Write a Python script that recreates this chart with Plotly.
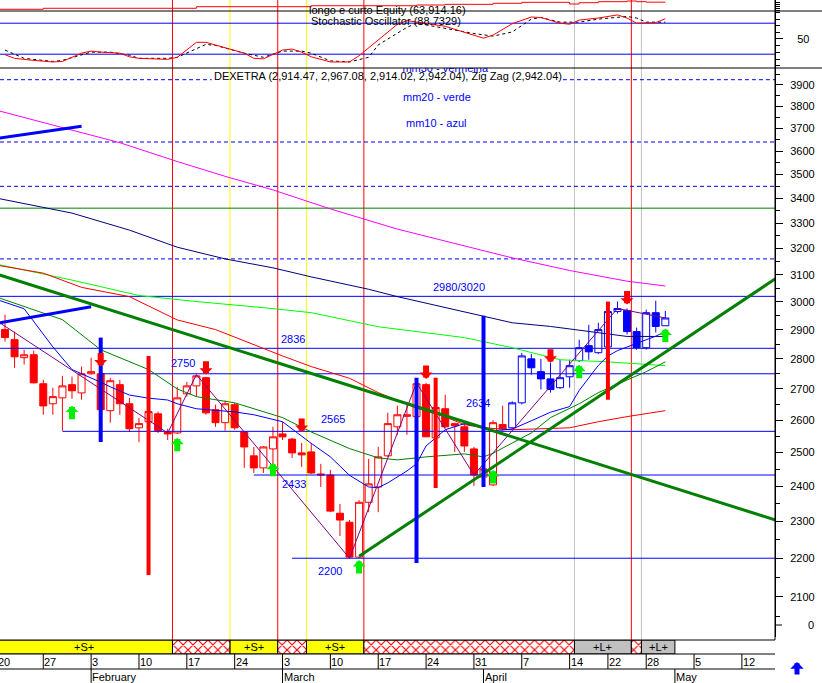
import math
import plotly.graph_objects as go

W, H = 822, 683
PW = 775                      # width of the plotting area in px
X_RANGE = [0.4775, 81.46]     # trading-day index shown (0 = Jan 20)
Y_LO, Y_HI = 2000.0, 3981.0   # log price range of the main panel

def yp(px):
    return 1 - px / H

# ---------------- price data (trading-day index, OHLC) ----------------
days = list(range(1, 71))
opens = [2901, 2866, 2804, 2814, 2717, 2652, 2671, 2714, 2687, 2750,
         2750, 2630, 2714, 2652, 2576, 2595, 2620, 2563, 2560, 2684,
         2710, 2737, 2633, 2592, 2649, 2563, 2490, 2454, 2511, 2557,
         2541, 2499, 2502, 2436, 2433, 2323, 2298, 2203, 2354, 2398,
         2490, 2579, 2612, 2611, 2714, 2545, 2636, 2589, 2579, 2511,
         2427, 2404, 2586, 2576, 2655, 2800, 2757, 2733, 2704, 2740,
         2794, 2845, 2821, 2841, 2965, 2969, 2894, 2838, 2961, 2914.47]
highs = [2954, 2894, 2831, 2828, 2730, 2704, 2743, 2740, 2774, 2804,
         2757, 2737, 2730, 2671, 2607, 2658, 2627, 2573, 2707, 2723,
         2747, 2740, 2649, 2662, 2655, 2565, 2517, 2520, 2579, 2595,
         2545, 2529, 2529, 2466, 2448, 2349, 2304, 2360, 2481, 2517,
         2623, 2646, 2658, 2730, 2720, 2646, 2681, 2592, 2592, 2517,
         2454, 2600, 2646, 2660, 2820, 2817, 2800, 2787, 2797, 2797,
         2866, 2918, 2925, 2980, 3001, 2976, 2908, 2972, 3004, 2967.08]
lows = [2859, 2770, 2781, 2718, 2617, 2617, 2567, 2668, 2665, 2747,
        2617, 2592, 2617, 2563, 2532, 2586, 2560, 2538, 2557, 2675,
        2675, 2617, 2579, 2567, 2570, 2454, 2439, 2439, 2457, 2538,
        2484, 2457, 2436, 2398, 2326, 2260, 2200, 2200, 2326, 2326,
        2487, 2554, 2554, 2611, 2548, 2540, 2576, 2502, 2502, 2401,
        2424, 2401, 2567, 2573, 2650, 2747, 2698, 2688, 2700, 2704,
        2790, 2797, 2817, 2835, 2958, 2884, 2831, 2831, 2891, 2914.02]
closes = [2873, 2807, 2814, 2720, 2645, 2675, 2710, 2694, 2750, 2757,
          2633, 2727, 2652, 2573, 2589, 2627, 2567, 2557, 2671, 2710,
          2743, 2623, 2592, 2652, 2576, 2517, 2454, 2517, 2548, 2548,
          2499, 2493, 2439, 2433, 2329, 2304, 2203, 2354, 2407, 2487,
          2589, 2617, 2617, 2717, 2548, 2640, 2579, 2582, 2520, 2433,
          2451, 2592, 2573, 2655, 2810, 2770, 2733, 2698, 2737, 2777,
          2838, 2824, 2901, 2965, 2976, 2894, 2838, 2961, 2912, 2942.04]
BLUE_FROM_DAY = 54

# ---------------- moving averages ----------------
mm10_x = [0, 3, 6, 8, 11, 12, 14, 16, 18, 19, 21, 23, 25, 27, 30, 33, 35, 37, 39, 40, 41, 43, 44, 45, 47, 49, 51, 52, 54, 56, 58, 60, 61, 63, 64, 65, 67, 69, 70]
mm10_y = [3010, 2975, 2841, 2764, 2722, 2707, 2680, 2670, 2664, 2652, 2636, 2632, 2626, 2617, 2595, 2528, 2487, 2432, 2398, 2396, 2410, 2445, 2466, 2520, 2570, 2589, 2576, 2567, 2572, 2598, 2625, 2643, 2695, 2778, 2810, 2828, 2852, 2878, 2894]
mm20_x = [0, 7, 11, 16, 19, 21, 25, 30, 33, 37, 40, 42, 45, 49, 51, 52, 54, 56, 58, 61, 63, 66, 68, 70]
mm20_y = [3019, 2936, 2831, 2764, 2700, 2675, 2655, 2608, 2563, 2512, 2484, 2478, 2487, 2496, 2487, 2498, 2529, 2560, 2608, 2652, 2688, 2730, 2757, 2790]
mm30_x = [0, 5, 9, 14, 19, 23, 30, 33, 37, 40, 44, 47, 49, 51, 54, 60, 63, 66, 70]
mm30_y = [3137, 3106, 3053, 3019, 2935, 2901, 2810, 2774, 2735, 2688, 2638, 2610, 2586, 2576, 2570, 2576, 2595, 2611, 2630]
lime_x = [0, 8, 15, 21, 28, 33, 40, 49, 54, 59, 64, 70]
lime_y = [3141, 3080, 3023, 3001, 2979, 2961, 2911, 2873, 2838, 2797, 2790, 2777]
navy_x = [0, 8, 14, 19, 24, 29, 33, 39, 42, 51, 54, 58, 62, 66, 70]
navy_y = [3402, 3340, 3272, 3205, 3160, 3126, 3092, 3046, 3019, 2947, 2925, 2912, 2894, 2877, 2877]
magenta_x = [0, 7, 13, 19, 24, 29, 35, 42, 54, 60, 66, 70]
magenta_y = [3784, 3703, 3637, 3555, 3492, 3435, 3357, 3276, 3164, 3116, 3076, 3058]
zigzag_x = [0, 18, 21, 37, 44, 50, 65, 70]
zigzag_y = [2935, 2560, 2747, 2200, 2720, 2433, 2976, 2942]

# ---------------- levels & trend lines ----------------
levels = [3020, 2836, 2750, 2565, 2433, 2200]
level_start = [0, 0, 11, 7, 27, 31]
level_labels = ["2980/3020", "2836", "2750", "2565", "2634", "2433", "2200"]
label_x = [45.6, 29.7, 18.2, 33.9, 49.1, 29.8, 33.6]
label_y = [3056, 2869, 2787, 2604, 2655, 2407, 2166]
dashed_levels = [3925, 3640, 3450, 3160]
header_gap = [22.6, 59.3]           # dashed 3925 line is interrupted by the header text
green_level = 3360
trend_green = [([0, 82], [3104, 2300]), ([38, 82], [2205, 3097])]
trend_blue = [([0, 9], [3655, 3710]), ([0, 10], [2922, 2982])]

# signal bars (day, top, bottom)
blue_bars = [(11, 2873, 2532), (44, 2737, 2187), (51, 2950, 2398)]
red_bars = [(16, 2810, 2156), (46, 2737, 2395), (64, 3001, 2665)]
down_x = [11, 22, 32, 45, 58, 66]
down_y = [2774, 2747, 2563, 2733, 2787, 2990]
up_x = [8, 19, 29, 38, 52, 61, 70]
up_y = [2646, 2545, 2469, 2195, 2448, 2780, 2905]

# vertical signal lines
sig_pos = [18.5, 24.5, 29.5, 32.5, 38.5, 60.5, 66.45, 67.5]
sig_col = ["#FF0000", "#FFFF00", "#FF0000", "#FFFF00", "#FF0000", "#C0C0C0", "#FF0000", "#C0C0C0"]

# position band
band_start = [0, 18.5, 24.5, 29.5, 32.5, 38.5, 60.5, 66.45, 67.5]
band_end = [18.5, 24.5, 29.5, 32.5, 38.5, 60.5, 66.45, 67.5, 71.0]
band_state = ["S", "X", "S", "X", "S", "X", "L", "X", "L"]

# ---------------- stochastic & equity ----------------
k_x = [1, 2, 4, 6, 7, 9, 10, 11, 13, 14, 15, 18, 19, 21, 22, 24, 26, 27, 28, 30, 31, 32, 33, 35, 37, 38, 40, 42, 43, 45, 47, 51, 52, 54, 56, 57, 59, 60, 61, 63, 65, 66, 67, 69, 70]
k_y = [19, 12, 8, 5, 6, 22, 26, 24, 22, 15, 12, 10, 14, 43, 43, 33, 22, 12, 11, 28, 30, 24, 15, 5, 5, 17, 48, 78, 85, 79, 74, 51, 57, 79, 92, 91, 80, 78, 86, 90, 96, 90, 80, 81, 88.73]
d_x = [1, 2, 3, 6, 7, 10, 12, 14, 15, 18, 19, 22, 23, 26, 28, 30, 32, 33, 35, 37, 39, 40, 43, 44, 47, 50, 52, 54, 56, 57, 59, 61, 63, 66, 67, 68, 70]
d_y = [28, 20, 12, 6, 8, 24, 24, 18, 12, 12, 14, 39, 37, 22, 14, 26, 26, 22, 7, 5, 14, 38, 72, 80, 70, 60, 55, 63, 88, 91, 82, 82, 88, 93, 90, 82, 82]
eq_x = [0, 5, 21, 33, 44, 47, 52, 55, 60, 61, 63, 66, 67, 68, 70]
eq_y = [57000, 57950, 59500, 60450, 61150, 61800, 62800, 63750, 62100, 63400, 64350, 65000, 64350, 63900, 63914.16]

# ---------------- date axis ----------------
day_ticks = [0, 5, 10, 15, 20, 25, 30, 35, 40, 45, 50, 55, 60, 64, 68, 73, 78]
day_labels = ["20", "27", "3", "10", "17", "24", "3", "10", "17", "24", "31", "7", "14", "22", "28", "5", "12"]
month_ticks = [10, 30, 51, 71]
month_labels = ["February", "March", "April", "May"]

FONT = "Liberation Sans, Arial, sans-serif"
fig = go.Figure()

def line(x, y, color, width=1, dash=None, yaxis="y"):
    fig.add_trace(go.Scatter(x=x, y=y, mode="lines", yaxis=yaxis,
                             line=dict(color=color, width=width, dash=dash),
                             hoverinfo="skip", showlegend=False))

# horizontal levels
for i, lv in enumerate(dashed_levels):
    if i == 0:
        line([X_RANGE[0], header_gap[0], None, header_gap[1], X_RANGE[1]],
             [lv, lv, None, lv, lv], "#0000FF", 1, "4px,3px")
    else:
        line([X_RANGE[0], X_RANGE[1]], [lv, lv], "#0000FF", 1, "4px,3px")
line([X_RANGE[0], X_RANGE[1]], [green_level, green_level], "#008000", 1)
for lv, s in zip(levels, level_start):
    line([s, X_RANGE[1]], [lv, lv], "#0000FF", 1)

# moving averages, zig zag, trend lines
line(magenta_x, magenta_y, "#FF00FF")
line(navy_x, navy_y, "#000080")
line(lime_x, lime_y, "#00FF00")
line(mm30_x, mm30_y, "#FF0000")
line(mm20_x, mm20_y, "#008000")
line(mm10_x, mm10_y, "#0000FF")
line(zigzag_x, zigzag_y, "#800080")
for tx, ty in trend_green:
    line(tx, ty, "#008000", 3)
for tx, ty in trend_blue:
    line(tx, ty, "#0000FF", 3)

# candles
n = days.index(BLUE_FROM_DAY)
for sl, col in ((slice(0, n), "#FF0000"), (slice(n, None), "#0000FF")):
    fig.add_trace(go.Candlestick(
        x=days[sl], open=opens[sl], high=highs[sl], low=lows[sl], close=closes[sl],
        increasing=dict(line=dict(color=col, width=1), fillcolor="#FFFFFF"),
        decreasing=dict(line=dict(color=col, width=1), fillcolor=col),
        whiskerwidth=0, hoverinfo="skip", showlegend=False, yaxis="y"))

# thick signal bars
for bars, col in ((blue_bars, "#0000FF"), (red_bars, "#FF0000")):
    xs, ys = [], []
    for d, top, bot in bars:
        xs += [d, d, None]
        ys += [top, bot, None]
    line(xs, ys, col, 4)

# half-hidden legend text of mm30 (clipped by the panel edge)
fig.add_trace(go.Scatter(x=[47.0], y=[3975], mode="text", text=["mm30 - vermelha"],
                         textfont=dict(family=FONT, size=11, color="#0000FF"),
                         cliponaxis=True, hoverinfo="skip", showlegend=False, yaxis="y"))

# stochastic + equity
line(eq_x, eq_y, "#FF0000", 1, yaxis="y3")
fig.data[-1].line.shape = "hv"
line(d_x, d_y, "#000000", 1, "3px,3px", yaxis="y2")
line(k_x, k_y, "#FF0000", 1, yaxis="y2")

# position band: solid segments, then cross-hatched segments
band_fill = {"S": "#FFFF00", "L": "#C0C0C0"}
solid = [i for i, s in enumerate(band_state) if s != "X"]
hatch = [i for i, s in enumerate(band_state) if s == "X"]
fig.add_trace(go.Bar(
    orientation="h", y=[0.5] * len(solid),
    x=[band_end[i] - band_start[i] for i in solid], base=[band_start[i] for i in solid], width=1,
    marker=dict(color=[band_fill[band_state[i]] for i in solid], line=dict(color="#000000", width=1)),
    yaxis="y4", hoverinfo="skip", showlegend=False))
fig.add_trace(go.Bar(
    orientation="h", y=[0.5] * len(hatch),
    x=[band_end[i] - band_start[i] for i in hatch], base=[band_start[i] for i in hatch], width=1,
    marker=dict(color="#FFFFFF", line=dict(color="#000000", width=1),
                pattern=dict(shape="x", fgcolor="#FF0000", bgcolor="#FFFFFF", fgopacity=1,
                             size=7, solidity=0.3, fillmode="replace")),
    yaxis="y4", hoverinfo="skip", showlegend=False))

shapes = []
for p, c in zip(sig_pos, sig_col):
    shapes.append(dict(type="line", xref="x", yref="paper", x0=p, x1=p, y0=yp(640), y1=1,
                       line=dict(color=c, width=1), layer="below"))
for v in (80, 20):
    shapes.append(dict(type="line", xref="paper", yref="y2", x0=0, x1=1, y0=v, y1=v,
                       line=dict(color="#0000FF", width=1), layer="below"))
for pyv in (11, 68):
    shapes.append(dict(type="line", xref="paper", yref="paper", x0=0, x1=W / PW,
                       y0=yp(pyv), y1=yp(pyv), line=dict(color="#000000", width=1)))
for pyv in (640, 654, 669):
    shapes.append(dict(type="line", xref="paper", yref="paper", x0=0, x1=1,
                       y0=yp(pyv), y1=yp(pyv), line=dict(color="#000000", width=1)))
shapes.append(dict(type="line", xref="paper", yref="paper", x0=1, x1=1, y0=yp(640), y1=1,
                   line=dict(color="#000000", width=1)))
shapes.append(dict(type="line", xref="paper", yref="paper", x0=1, x1=782 / PW, y0=yp(625), y1=yp(625),
                   line=dict(color="#000000", width=1)))
for t in day_ticks:
    shapes.append(dict(type="line", xref="x", yref="paper", x0=t, x1=t, y0=yp(669), y1=yp(654),
                       line=dict(color="#000000", width=1)))
for t in month_ticks:
    shapes.append(dict(type="line", xref="x", yref="paper", x0=t, x1=t, y0=0, y1=yp(669),
                       line=dict(color="#000000", width=1)))

ann = []
def txt(x, y, s, xref="paper", yref="paper", color="#000000", xanchor="left", size=11):
    ann.append(dict(x=x, y=y, xref=xref, yref=yref, text=s, showarrow=False, xanchor=xanchor,
                    yanchor="middle", font=dict(family=FONT, size=size, color=color), borderpad=0))

txt(308 / PW, yp(10), "longo e curto Equity (63,914.16)")
txt(310 / PW, yp(21), "Stochastic Oscillator (88.7329)")
txt(0.5, yp(76), "DEXETRA (2,914.47, 2,967.08, 2,914.02, 2,942.04), Zig Zag (2,942.04)",
    xanchor="center")
txt(402 / PW, yp(97), "mm20 - verde", color="#0000FF")
txt(405 / PW, yp(123), "mm10 - azul", color="#0000FF")
for s, x, y in zip(level_labels, label_x, label_y):
    txt(x, math.log10(y), s, xref="x", yref="y", color="#0000FF")
for t, s in zip(day_ticks, day_labels):
    if t < X_RANGE[0]:
        txt(-3 / PW, yp(662), s)
    else:
        txt(t, yp(662), s, xref="x")
for t, s in zip(month_ticks, month_labels):
    txt(t, yp(677), s, xref="x")
for s, e, st in zip(band_start, band_end, band_state):
    if st != "X":
        txt((s + e) / 2, yp(647), "+%s+" % st, xref="x", xanchor="center")
txt(815 / PW, yp(625), "0", xanchor="right")

for x, y in zip(down_x, down_y):
    ann.append(dict(x=x, y=math.log10(y), xref="x", yref="y", text="", showarrow=True,
                    ax=0, ay=-15, arrowhead=1, arrowsize=0.36, arrowwidth=6,
                    arrowcolor="#FF0000", standoff=0))
for x, y in zip(up_x, up_y):
    ann.append(dict(x=x, y=math.log10(y), xref="x", yref="y", text="", showarrow=True,
                    ax=0, ay=15, arrowhead=1, arrowsize=0.36, arrowwidth=6,
                    arrowcolor="#00EE00", standoff=0))
ann.append(dict(x=797 / PW, y=yp(662), xref="paper", yref="paper", text="", showarrow=True,
                ax=0, ay=14, arrowhead=1, arrowsize=0.45, arrowwidth=5,
                arrowcolor="#0000FF", standoff=0))

main_ticks = list(range(2100, 4000, 100))
main_minor = list(range(2050, 4000, 100))

fig.update_layout(
    width=W, height=H, margin=dict(l=0, r=W - PW, t=0, b=0),
    paper_bgcolor="#FFFFFF", plot_bgcolor="rgba(0,0,0,0)", showlegend=False,
    font=dict(family=FONT, size=11, color="#000000"),
    boxgap=0.27, boxgroupgap=0, barmode="overlay",
    xaxis=dict(range=X_RANGE, visible=False, rangeslider=dict(visible=False), domain=[0, 1]),
    yaxis=dict(type="log", domain=[yp(637), yp(68)],
               range=[math.log10(Y_LO), math.log10(Y_LO) + (637 - 68) / 1903.3],
               side="right", anchor="x", tickvals=main_ticks, ticktext=[str(v) for v in main_ticks],
               ticks="outside", ticklen=7, tickcolor="#000000", showline=True, linecolor="#000000",
               showgrid=False, zeroline=False, tickfont=dict(family=FONT, size=11),
               ticklabelstandoff=5,
               minor=dict(tickvals=main_minor, ticks="outside", ticklen=4, tickcolor="#000000", showgrid=False)),
    yaxis2=dict(domain=[yp(68), 1], range=[-6.7, 124.9], side="right", anchor="x",
                tickvals=[50], ticks="outside", ticklen=7, tickcolor="#000000",
                showline=True, linecolor="#000000", showgrid=False, zeroline=False,
                tickfont=dict(family=FONT, size=11), ticklabelstandoff=12,
                minor=dict(tickvals=[-2.5, 10, 22.5, 37.5, 62.5, 75, 87.5, 100, 104, 108, 112, 116, 120],
                           ticks="outside", ticklen=4, tickcolor="#000000", showgrid=False)),
    yaxis3=dict(overlaying="y2", range=[0, 66000], visible=False),
    yaxis4=dict(domain=[yp(654), yp(640)], range=[0, 1], visible=False, anchor="x"),
    shapes=shapes, annotations=ann,
)

fig.write_html("out.html", config={"displayModeBar": False, "staticPlot": True},
               post_script="document.body.style.margin='0';document.body.style.overflow='hidden';")
